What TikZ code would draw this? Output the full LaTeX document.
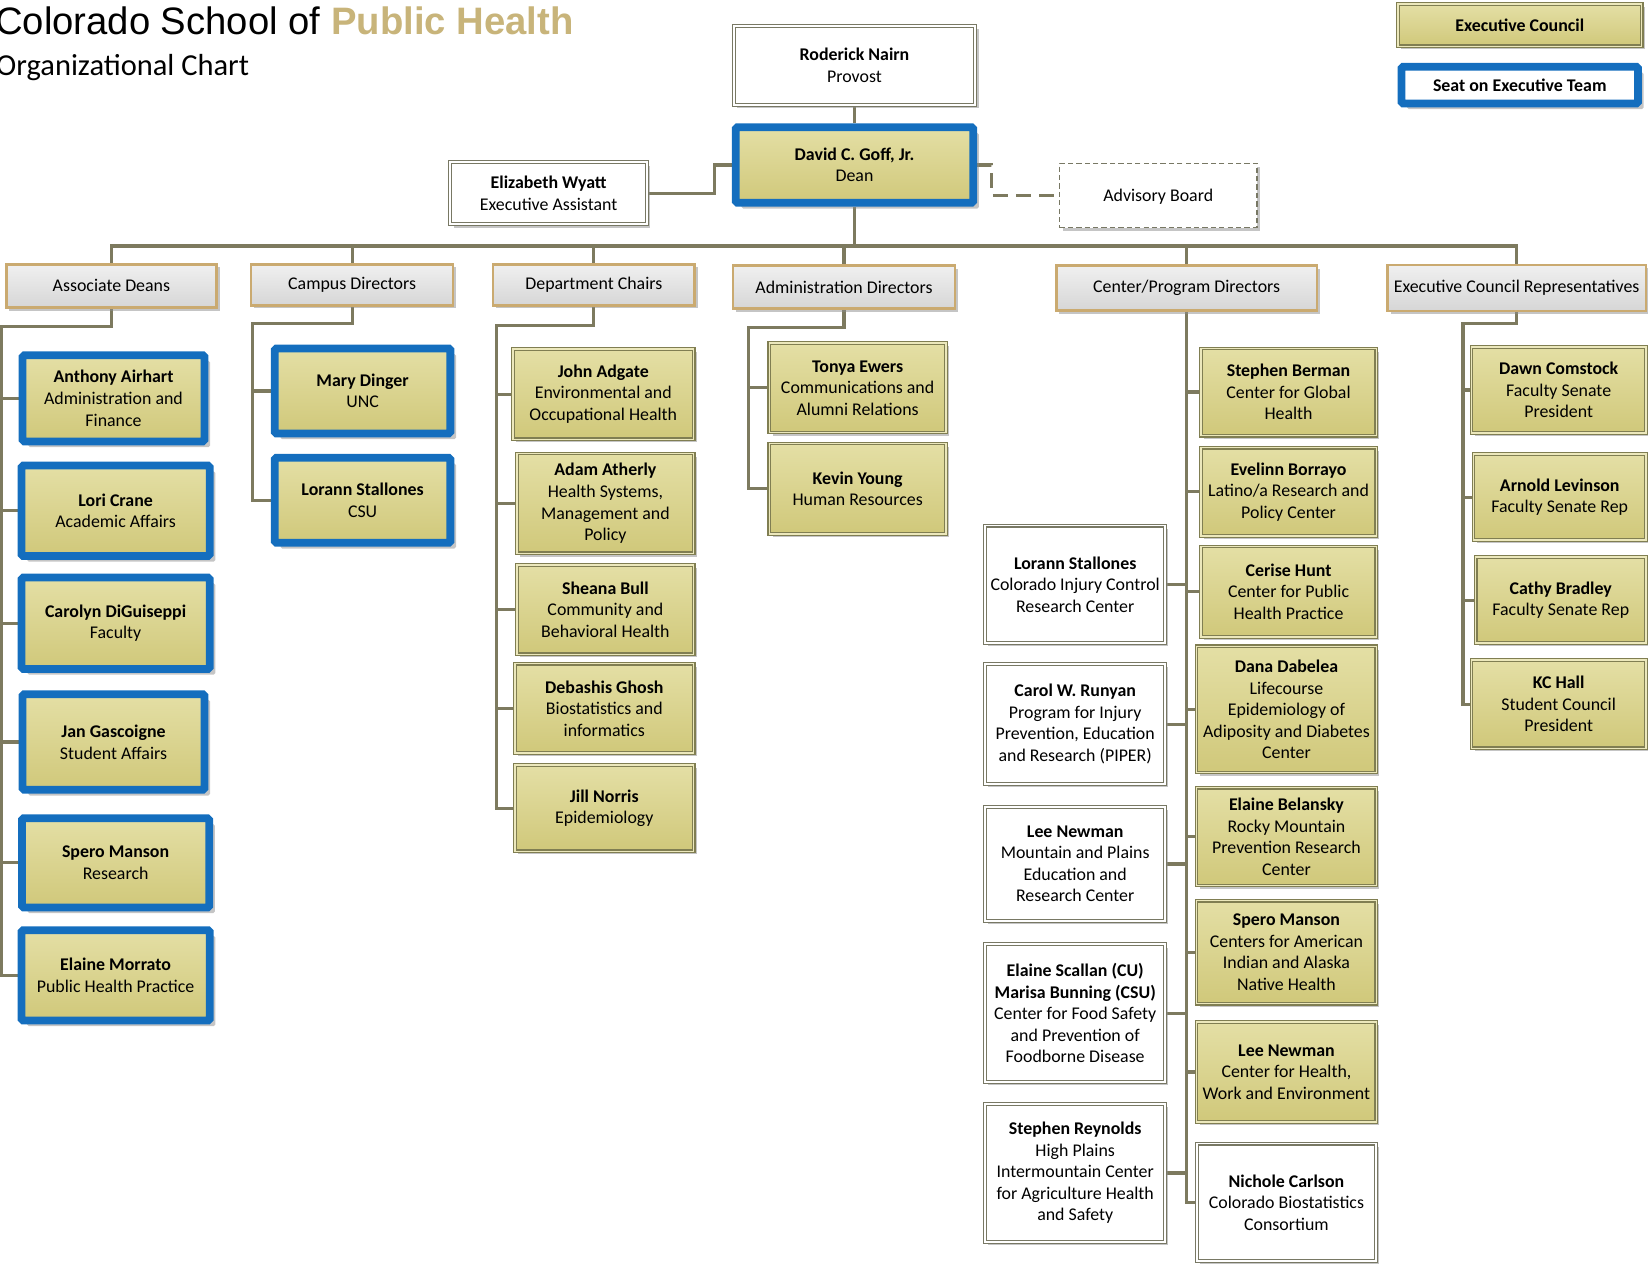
\documentclass[tikz,border=0pt]{standalone}
\usepackage{fontspec}
\setmainfont{Carlito}
\newfontfamily\titlefont{Liberation Sans}
\usetikzlibrary{shadows,backgrounds,calc}
\definecolor{blueC}{RGB}{20,110,190}
\definecolor{oliveTop}{RGB}{228,223,165}
\definecolor{oliveBot}{RGB}{208,200,122}
\definecolor{oliveLine}{RGB}{128,126,82}
\definecolor{oliveIn}{RGB}{236,232,188}
\definecolor{lineC}{RGB}{125,122,95}
\definecolor{tanC}{RGB}{202,170,112}
\definecolor{grayTop}{RGB}{240,240,240}
\definecolor{grayBot}{RGB}{214,214,214}
\definecolor{grayLine}{RGB}{120,120,100}
\definecolor{goldC}{RGB}{200,180,122}
\newcommand\bodyfont{\fontsize{8.5}{10.25}\selectfont}
\tikzset{
  base/.style={align=center,inner sep=1pt,font=\bodyfont,text=black},
  shad/.style={drop shadow={shadow xshift=1.5pt,shadow yshift=-1.5pt,fill=black!45}},
  bshad/.style={drop shadow={shadow xshift=2.7pt,shadow yshift=-2.7pt,fill=black!45}},
  olivebox/.style={base,shad,top color=oliveTop,bottom color=oliveBot,draw=oliveLine,line width=0.55pt,double=oliveIn,double distance=0.7pt},
  bluebox/.style={base,bshad,top color=oliveTop,bottom color=oliveBot,draw=blueC,line width=3.7pt,rounded corners=0.8pt},
  whitebox/.style={base,shad,fill=white,draw=grayLine,line width=0.5pt,double=white,double distance=0.9pt},
  groupbox/.style={base,shad,top color=grayTop,bottom color=grayBot,draw=tanC,line width=1.2pt},
  conn/.style={draw=lineC,line width=1.5pt},
}
\begin{document}
\begin{tikzpicture}[x=0.5pt,y=-0.5pt]
\useasboundingbox (0,0) rectangle (1568,1203);

% titles
\node[anchor=base west,inner sep=0,font=\titlefont\fontsize{18.2}{22}\selectfont] (title) at (-5,33) {Colorado School of \textbf{\color{goldC}Public Health}};
\node[anchor=base west,inner sep=0,font=\fontsize{14.5}{17}\selectfont] (subtitle) at (-4,72) {Organizational Chart};

% legend
\node[olivebox,minimum width=116pt,minimum height=20pt] (leg1) at (1446,24) {\textbf{Executive Council}};
\node[base,bshad,fill=white,draw=blueC,line width=3.7pt,rounded corners=0.8pt,minimum width=112.5pt,minimum height=17.5pt] (leg2) at (1446,81) {\textbf{Seat on Executive Team}};

% top
\node[whitebox,minimum width=115pt,minimum height=37.5pt] (prov) at (813,62) {\textbf{Roderick Nairn}\\Provost};
\node[bluebox,minimum width=113pt,minimum height=36pt] (dean) at (813,157) {\textbf{David C. Goff, Jr.}\\Dean};
\node[whitebox,minimum width=93.5pt,minimum height=29.5pt] (ew) at (522,184) {\textbf{Elizabeth Wyatt}\\Executive Assistant};
\node[base,shad,fill=white,draw=grayLine,line width=0.6pt,dash pattern=on 2.5pt off 1.5pt,minimum width=94pt,minimum height=30.5pt,text depth=0pt] (ab) at (1102,186) {Advisory Board};

% groups
\node[groupbox,minimum width=100pt,minimum height=20.5pt] (ad) at (106,272) {Associate Deans};
\node[groupbox,minimum width=96pt,minimum height=19.5pt] (cd) at (335,271) {Campus Directors};
\node[groupbox,minimum width=96pt,minimum height=19.5pt] (dc) at (565,271) {Department Chairs};
\node[groupbox,minimum width=105.5pt,minimum height=20.5pt] (adm) at (803,273) {Administration Directors};
\node[groupbox,minimum width=124pt,minimum height=21.5pt] (cpd) at (1129,274) {Center/Program Directors};
\node[groupbox,minimum width=123pt,minimum height=22pt] (ecr) at (1443,274) {Executive Council Representatives};

% associate deans
\node[bluebox,minimum width=86.5pt,minimum height=41pt] (a1) at (108,379) {\textbf{Anthony Airhart}\\Administration and\\Finance};
\node[bluebox,minimum width=89.5pt,minimum height=43pt] (a2) at (110,486) {\textbf{Lori Crane}\\Academic Affairs};
\node[bluebox,minimum width=89.5pt,minimum height=43.5pt] (a3) at (110,593) {\textbf{Carolyn DiGuiseppi}\\Faculty};
\node[bluebox,minimum width=86.5pt,minimum height=45.5pt] (a4) at (108,706) {\textbf{Jan Gascoigne}\\Student Affairs};
\node[bluebox,minimum width=89pt,minimum height=42.5pt] (a5) at (110,821) {\textbf{Spero Manson}\\Research};
\node[bluebox,minimum width=89.5pt,minimum height=43pt] (a6) at (110,928) {\textbf{Elaine Morrato}\\Public Health Practice};

% campus directors
\node[bluebox,minimum width=83.5pt,minimum height=40.5pt] (c1) at (345,372) {\textbf{Mary Dinger}\\UNC};
\node[bluebox,minimum width=83.5pt,minimum height=40.5pt] (c2) at (345,476) {\textbf{Lorann Stallones}\\CSU};

% department chairs
\node[olivebox,minimum width=86pt,minimum height=43pt] (d1) at (574,375) {\textbf{John Adgate}\\Environmental and\\Occupational Health};
\node[olivebox,minimum width=84pt,minimum height=47.5pt] (d2) at (576,479) {\textbf{Adam Atherly}\\Health Systems,\\Management and\\Policy};
\node[olivebox,minimum width=84pt,minimum height=42.5pt] (d3) at (576,580) {\textbf{Sheana Bull}\\Community and\\Behavioral Health};
\node[olivebox,minimum width=85pt,minimum height=42.5pt] (d4) at (575,674) {\textbf{Debashis Ghosh}\\Biostatistics and\\informatics};
\node[olivebox,minimum width=85pt,minimum height=41pt] (d5) at (575,769) {\textbf{Jill Norris}\\Epidemiology};

% administration directors
\node[olivebox,minimum width=84pt,minimum height=42.5pt] (m1) at (816,369) {\textbf{Tonya Ewers}\\Communications and\\Alumni Relations};
\node[olivebox,minimum width=84pt,minimum height=43pt] (m2) at (816,465) {\textbf{Kevin Young}\\Human Resources};

% center/program directors - left
\node[whitebox,minimum width=85.5pt,minimum height=56pt] (l1) at (1023,556) {\textbf{Lorann Stallones}\\Colorado Injury Control\\Research Center};
\node[whitebox,minimum width=85.5pt,minimum height=57pt] (l2) at (1023,689) {\textbf{Carol W. Runyan}\\Program for Injury\\Prevention, Education\\and Research (PIPER)};
\node[whitebox,minimum width=85.5pt,minimum height=54pt] (l3) at (1023,822) {\textbf{Lee Newman}\\Mountain and Plains\\Education and\\Research Center};
\node[whitebox,minimum width=85.5pt,minimum height=65.5pt] (l4) at (1023,964) {\textbf{Elaine Scallan (CU)}\\\textbf{Marisa Bunning (CSU)}\\Center for Food Safety\\and Prevention of\\Foodborne Disease};
\node[whitebox,minimum width=85.5pt,minimum height=66pt] (l5) at (1023,1116) {\textbf{Stephen Reynolds}\\High Plains\\Intermountain Center\\for Agriculture Health\\and Safety};

% center/program directors - right
\node[olivebox,minimum width=83.5pt,minimum height=41.5pt] (r1) at (1226,373) {\textbf{Stephen Berman}\\Center for Global\\Health};
\node[olivebox,minimum width=83.5pt,minimum height=42pt] (r2) at (1226,468) {\textbf{Evelinn Borrayo}\\Latino/a Research and\\Policy Center};
\node[olivebox,minimum width=83.5pt,minimum height=43pt] (r3) at (1226,563) {\textbf{Cerise Hunt}\\Center for Public\\Health Practice};
\node[olivebox,minimum width=85.5pt,minimum height=60pt] (r4) at (1224,675) {\textbf{Dana Dabelea}\\Lifecourse\\Epidemiology of\\Adiposity and Diabetes\\Center};
\node[olivebox,minimum width=85.5pt,minimum height=46.5pt] (r5) at (1224,796) {\textbf{Elaine Belansky}\\Rocky Mountain\\Prevention Research\\Center};
\node[olivebox,minimum width=85.5pt,minimum height=49pt] (r6) at (1224,906) {\textbf{Spero Manson}\\Centers for American\\Indian and Alaska\\Native Health};
\node[olivebox,minimum width=85.5pt,minimum height=47.5pt] (r7) at (1224,1020) {\textbf{Lee Newman}\\Center for Health,\\Work and Environment};
\node[whitebox,minimum width=85.5pt,minimum height=56pt] (r8) at (1224,1144) {\textbf{Nichole Carlson}\\Colorado Biostatistics\\Consortium};

% executive council representatives
\node[olivebox,minimum width=83pt,minimum height=41pt] (e1) at (1483,371) {\textbf{Dawn Comstock}\\Faculty Senate\\President};
\node[olivebox,minimum width=82pt,minimum height=41pt] (e2) at (1484,473) {\textbf{Arnold Levinson}\\Faculty Senate Rep};
\node[olivebox,minimum width=81pt,minimum height=41pt] (e3) at (1485,571) {\textbf{Cathy Bradley}\\Faculty Senate Rep};
\node[olivebox,minimum width=83pt,minimum height=42pt] (e4) at (1483,670) {\textbf{KC Hall}\\Student Council\\President};

% connectors
\coordinate (bus) at (813,234);
\coordinate (adS) at (1.5,311);
\coordinate (cdS) at (240,308);
\coordinate (dcS) at (472,310);
\coordinate (admS) at (712,312);
\coordinate (ecrS) at (1392,308);
\begin{scope}[on background layer]
\draw[conn] (prov.south) -- (dean.north);
\draw[conn] (dean.south) -- (bus);
\draw[conn] (ad.north) |- (bus) -| (ecr.north);
\draw[conn] (cd.north) -- (cd.north |- bus);
\draw[conn] (dc.north) -- (dc.north |- bus);
\draw[conn] (adm.north) -- (adm.north |- bus);
\draw[conn] (cpd.north) -- (cpd.north |- bus);
\draw[conn] (ew.east) -- ++(64,0) |- (dean.west);
\draw[conn,dash pattern=on 7pt off 4pt] (dean.east) -- ++(14,0) |- (ab.west);
\draw[conn] (ad.south) |- (adS) |- (a6.west);
\draw[conn] (adS |- a1.west) -- (a1.west);
\draw[conn] (adS |- a2.west) -- (a2.west);
\draw[conn] (adS |- a3.west) -- (a3.west);
\draw[conn] (adS |- a4.west) -- (a4.west);
\draw[conn] (adS |- a5.west) -- (a5.west);
\draw[conn] (cd.south) |- (cdS) |- (c2.west);
\draw[conn] (cdS |- c1.west) -- (c1.west);
\draw[conn] (dc.south) |- (dcS) |- (d5.west);
\draw[conn] (dcS |- d1.west) -- (d1.west);
\draw[conn] (dcS |- d2.west) -- (d2.west);
\draw[conn] (dcS |- d3.west) -- (d3.west);
\draw[conn] (dcS |- d4.west) -- (d4.west);
\draw[conn] (adm.south) |- (admS) |- (m2.west);
\draw[conn] (admS |- m1.west) -- (m1.west);
\draw[conn] (cpd.south) |- (r8.west);
\draw[conn] (cpd.south |- r1.west) -- (r1.west);
\draw[conn] (cpd.south |- r2.west) -- (r2.west);
\draw[conn] (cpd.south |- r3.west) -- (r3.west);
\draw[conn] (cpd.south |- r4.west) -- (r4.west);
\draw[conn] (cpd.south |- r5.west) -- (r5.west);
\draw[conn] (cpd.south |- r6.west) -- (r6.west);
\draw[conn] (cpd.south |- r7.west) -- (r7.west);
\draw[conn] (l1.east) -- (l1.east -| cpd.south);
\draw[conn] (l2.east) -- (l2.east -| cpd.south);
\draw[conn] (l3.east) -- (l3.east -| cpd.south);
\draw[conn] (l4.east) -- (l4.east -| cpd.south);
\draw[conn] (l5.east) -- (l5.east -| cpd.south);
\draw[conn] (ecr.south) |- (ecrS) |- (e4.west);
\draw[conn] (ecrS |- e1.west) -- (e1.west);
\draw[conn] (ecrS |- e2.west) -- (e2.west);
\draw[conn] (ecrS |- e3.west) -- (e3.west);
\end{scope}
\end{tikzpicture}
\end{document}
